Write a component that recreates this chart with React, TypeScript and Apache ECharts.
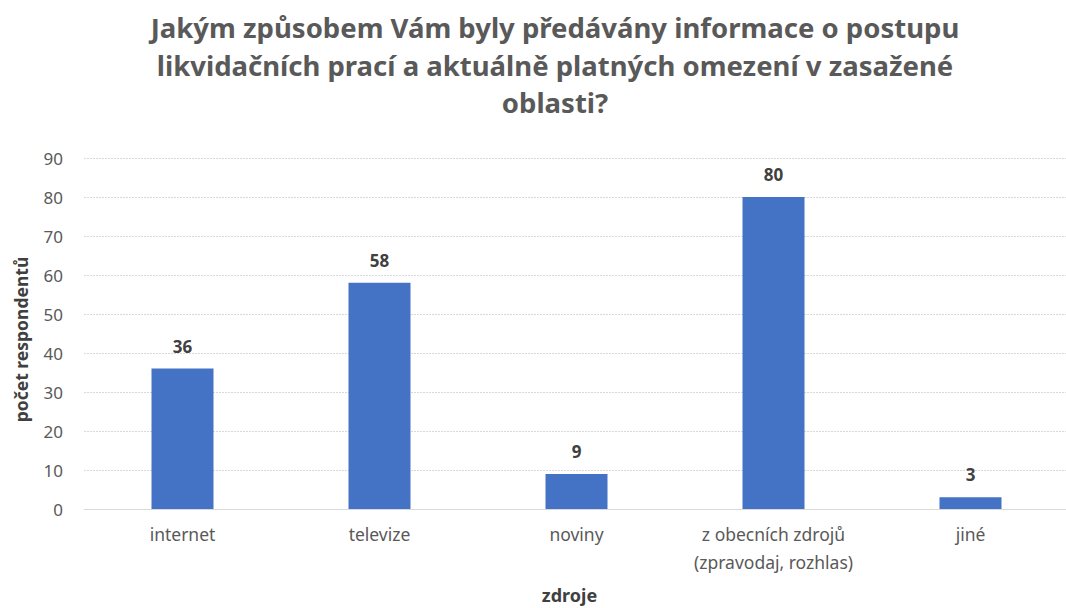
import React, { useEffect, useRef } from "react";
import * as echarts from "echarts";

const categories = ["internet", "televize", "noviny", "z obecních zdrojů\n(zpravodaj, rozhlas)", "jiné"];
const values = [36, 58, 9, 80, 3];
const titleText = "Jakým způsobem Vám byly předávány informace o postupu\nlikvidačních prací a aktuálně platných omezení v zasažené\noblasti?";
const yAxisName = "počet respondentů";
const xAxisName = "zdroje";

export default function App() {
  const ref = useRef<HTMLDivElement>(null);
  useEffect(() => {
    const chart = echarts.init(ref.current!, null, { renderer: "svg" });
    const font = "'Noto Sans', 'Open Sans', sans-serif";
    chart.setOption({
      animation: false,
      backgroundColor: "#ffffff",
      textStyle: { fontFamily: font },
      graphic: [
        {
          type: "text",
          x: 555,
          y: 9,
          style: {
            text: titleText,
            fontFamily: font,
            fontSize: 27.5,
            fontWeight: "bold",
            fill: "#595959",
            textAlign: "center",
            lineHeight: 37.5,
          },
        },
      ],
      grid: { left: 84, top: 158, width: 985, height: 351, containLabel: false, outerBoundsMode: "none" },
      xAxis: {
        type: "category",
        data: categories,
        name: xAxisName,
        nameLocation: "middle",
        nameGap: 77,
        nameTextStyle: { fontFamily: font, fontSize: 18, fontWeight: "bold", color: "#404040", padding: [0, 0, 0, -14] },
        axisLine: { show: true, lineStyle: { color: "#d9d9d9" } },
        axisTick: { show: false },
        axisLabel: { fontFamily: font, fontSize: 17.5, color: "#595959", margin: 11, lineHeight: 28, interval: 0 },
        splitLine: { show: false },
      },
      yAxis: {
        type: "value",
        min: 0,
        max: 90,
        interval: 10,
        name: yAxisName,
        nameLocation: "middle",
        nameGap: 54,
        nameRotate: 90,
        nameTextStyle: { fontFamily: font, fontSize: 17.5, fontWeight: "bold", color: "#404040", padding: [0, 12, 0, 0] },
        axisLine: { show: false },
        axisTick: { show: false },
        axisLabel: { fontFamily: font, fontSize: 17, color: "#595959", margin: 21 },
        splitLine: { show: true, lineStyle: { color: "#d9d9d9", type: [2, 1], width: 1 } },
      },
      series: [
        {
          type: "bar",
          data: values,
          barWidth: 62,
          itemStyle: { color: "#4472C4" },
          label: {
            show: true,
            position: "top",
            distance: 14,
            fontFamily: font,
            fontSize: 17,
            fontWeight: "bold",
            color: "#404040",
          },
        },
      ],
    });
    return () => chart.dispose();
  }, []);
  return (
    <div
      ref={ref}
      style={{ position: "absolute", left: 0, top: 0, width: 1066, height: 608 }}
    />
  );
}
